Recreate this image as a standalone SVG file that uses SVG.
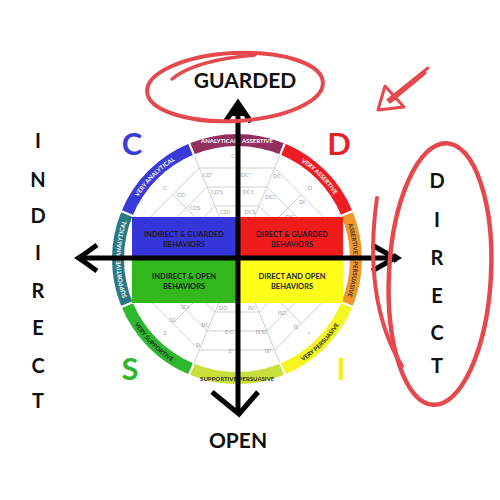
<svg xmlns="http://www.w3.org/2000/svg" width="500" height="500" viewBox="0 0 500 500">
<defs>
<style>
.seg{stroke:#fff;stroke-width:2}
.web{fill:none;stroke:#c4c4c4;stroke-width:0.8}
.wl{font-family:Lato,'Liberation Sans',sans-serif;font-size:5.5px;fill:#9a9a9a;text-anchor:middle}
.bl{font-family:Lato,'Liberation Sans',sans-serif;font-size:6px;font-weight:700;text-anchor:middle}
.bx{font-family:Lato,'Liberation Sans',sans-serif;font-size:7.5px;font-weight:700;fill:#1a1a2a;text-anchor:middle}
.big{font-family:Lato,'Liberation Sans',sans-serif;font-size:31px;font-weight:700;text-anchor:middle}
.ax{font-family:Lato,'Liberation Sans',sans-serif;font-weight:700;fill:#111;text-anchor:middle}
.axl{fill:none;stroke:#000;stroke-width:5;stroke-linecap:butt;stroke-linejoin:miter}
.red{fill:none;stroke:#e5484d;stroke-linecap:round;stroke-linejoin:round}
</style>
<path id="pBlue" d="M129.37,214.42 A116.5,116.5 0 0 1 192.42,151.37"/>
<path id="pRed" d="M281.58,151.37 A116.5,116.5 0 0 1 344.63,214.42"/>
<path id="pLeft" d="M129.37,303.58 A116.5,116.5 0 0 1 129.37,214.42"/>
<path id="pRight" d="M344.63,214.42 A116.5,116.5 0 0 1 344.63,303.58"/>
<path id="pGreen" d="M124.75,305.5 A121.5,121.5 0 0 0 190.5,371.25"/>
<path id="pYellow" d="M283.5,371.25 A121.5,121.5 0 0 0 349.25,305.5"/>
</defs>
<rect width="500" height="500" fill="#fff"/>

<g id="ring">
<path class="seg" fill="#93305f" d="M188.78,142.59 A126,126 0 0 1 285.22,142.59 L279.86,155.53 A112,112 0 0 0 194.14,155.53 Z"/>
<path class="seg" fill="#ee1c25" d="M285.22,142.59 A126,126 0 0 1 353.41,210.78 L340.47,216.14 A112,112 0 0 0 279.86,155.53 Z"/>
<path class="seg" fill="#f0962a" d="M353.41,210.78 A126,126 0 0 1 353.41,307.22 L340.47,301.86 A112,112 0 0 0 340.47,216.14 Z"/>
<path class="seg" fill="#f5f51f" d="M353.41,307.22 A126,126 0 0 1 285.22,375.41 L279.86,362.47 A112,112 0 0 0 340.47,301.86 Z"/>
<path class="seg" fill="#c8e03c" d="M285.22,375.41 A126,126 0 0 1 188.78,375.41 L194.14,362.47 A112,112 0 0 0 279.86,362.47 Z"/>
<path class="seg" fill="#2db82d" d="M188.78,375.41 A126,126 0 0 1 120.59,307.22 L133.53,301.86 A112,112 0 0 0 194.14,362.47 Z"/>
<path class="seg" fill="#2a7a85" d="M120.59,307.22 A126,126 0 0 1 120.59,210.78 L133.53,216.14 A112,112 0 0 0 133.53,301.86 Z"/>
<path class="seg" fill="#3a3adb" d="M120.59,210.78 A126,126 0 0 1 188.78,142.59 L194.14,155.53 A112,112 0 0 0 133.53,216.14 Z"/>
<text class="bl" fill="#fff" x="219" y="142.5">ANALYTICAL</text>
<text class="bl" fill="#fff" x="257.5" y="142.5">ASSERTIVE</text>
<text class="bl" fill="#333" x="218.5" y="380.5">SUPPORTIVE</text>
<text class="bl" fill="#333" x="256.5" y="380.5">PERSUASIVE</text>
<text class="bl" fill="#fff"><textPath href="#pBlue" startOffset="50%">VERY ANALYTICAL</textPath></text>
<text class="bl" fill="#fff"><textPath href="#pRed" startOffset="50%">VERY ASSERTIVE</textPath></text>
<text class="bl" fill="#fff"><textPath href="#pLeft" startOffset="28%">SUPPORTIVE</textPath></text>
<text class="bl" fill="#fff"><textPath href="#pLeft" startOffset="72%">ANALYTICAL</textPath></text>
<text class="bl" fill="#333"><textPath href="#pRight" startOffset="28%">ASSERTIVE</textPath></text>
<text class="bl" fill="#333"><textPath href="#pRight" startOffset="72%">PERSUASIVE</textPath></text>
<text class="bl" fill="#222"><textPath href="#pGreen" startOffset="50%">VERY SUPPORTIVE</textPath></text>
<text class="bl" fill="#222"><textPath href="#pYellow" startOffset="50%">VERY PERSUASIVE</textPath></text>
</g>

<g id="web">
<polygon class="web" points="199.3,168 274.7,168 328,221.3 328,296.7 274.7,350 199.3,350 146,296.7 146,221.3"/>
<polygon class="web" points="207.2,187 266.8,187 309,229.2 309,288.8 266.8,331 207.2,331 165,288.8 165,229.2"/>
<polygon class="web" points="215.05,206 258.95,206 290,237.05 290,280.95 258.95,312 215.05,312 184,280.95 184,237.05"/>
<path class="web" d="M237,259 L194.14,155.53 M237,259 L279.86,155.53 M237,259 L340.47,216.14 M237,259 L340.47,301.86 M237,259 L279.86,362.47 M237,259 L194.14,362.47 M237,259 L133.53,301.86 M237,259 L133.53,216.14 M237,259 L172.7,194.7 M237,259 L301.3,194.7 M237,259 L172.7,323.3 M237,259 L301.3,323.3"/>
<text class="wl" x="233" y="158">C</text>
<text class="wl" x="165" y="190">C</text>
<text class="wl" x="181" y="197">CD</text>
<text class="wl" x="195" y="210">CDS</text>
<text class="wl" x="208" y="177">CD"</text>
<text class="wl" x="217" y="194">CD'S</text>
<text class="wl" x="225" y="214">CDI</text>
<text class="wl" x="246" y="177">DC"</text>
<text class="wl" x="248" y="194">DC'I</text>
<text class="wl" x="250" y="214">DCS</text>
<text class="wl" x="277" y="178">DC</text>
<text class="wl" x="310" y="190">D</text>
<text class="wl" x="270" y="199">DCI</text>
<text class="wl" x="302" y="204">DI</text>
<text class="wl" x="290" y="219">DIC</text>
<text class="wl" x="185" y="309">SCI</text>
<text class="wl" x="173" y="322">SC</text>
<text class="wl" x="165" y="335">S</text>
<text class="wl" x="205" y="327">SIC</text>
<text class="wl" x="198" y="347">SI</text>
<text class="wl" x="223" y="310">SID</text>
<text class="wl" x="229" y="334">S"C</text>
<text class="wl" x="231" y="353">S"</text>
<text class="wl" x="252" y="310">ISC</text>
<text class="wl" x="282" y="315">ISD</text>
<text class="wl" x="261" y="334">IS"D</text>
<text class="wl" x="268" y="353">IS"</text>
<text class="wl" x="296" y="329">IS</text>
<text class="wl" x="309" y="335">I</text>
</g>

<g id="q-indirect-guarded">
<rect x="132" y="217" width="105" height="40" fill="#3535d9"/>
<text class="bx" x="184" y="237">INDIRECT &amp; GUARDED</text>
<text class="bx" x="184" y="247">BEHAVIORS</text>
</g>
<g id="q-direct-guarded">
<rect x="239" y="217" width="104" height="40" fill="#f01c1c"/>
<text class="bx" x="292" y="237">DIRECT &amp; GUARDED</text>
<text class="bx" x="292" y="247">BEHAVIORS</text>
</g>
<g id="q-indirect-open">
<rect x="132" y="260" width="105" height="43" fill="#33b81c"/>
<text class="bx" x="184" y="279">INDIRECT &amp; OPEN</text>
<text class="bx" x="184" y="289">BEHAVIORS</text>
</g>
<g id="q-direct-open">
<rect x="239" y="260" width="104" height="43" fill="#ffff1a"/>
<text class="bx" x="292" y="279">DIRECT AND OPEN</text>
<text class="bx" x="292" y="289">BEHAVIORS</text>
</g>

<g id="letters">
<text class="big" fill="#3b3bd8" x="132" y="155">C</text>
<text class="big" fill="#e8202a" x="339" y="155">D</text>
<text class="big" fill="#2eb82e" x="130" y="380">S</text>
<text class="big" fill="#f2f21a" x="341" y="380">I</text>
</g>

<g id="connectors">
<line class="axl" x1="80" y1="258" x2="396" y2="258"/>
<line class="axl" x1="238" y1="104" x2="238" y2="412"/>
<polyline class="axl" points="97,245 79,258 97,271"/>
<polyline class="axl" points="372,245 395,258 372,271"/>
<polygon points="74,258 82,253 82,263" fill="#000"/>
<polygon points="402,258 394,253 394,263" fill="#000"/>
<polyline class="axl" points="225,122 238,103 251,122"/>
<polygon points="238,100 229,116 247,116" fill="#000"/>
<polyline class="axl" points="212,392 239,414 258,392"/>
</g>

<g id="axis-labels">
<text class="ax" font-size="21" x="245" y="88">GUARDED</text>
<text class="ax" font-size="21" x="238" y="448">OPEN</text>
<g font-size="20">
<text class="ax" x="38" y="148">I</text>
<text class="ax" x="38" y="187">N</text>
<text class="ax" x="38" y="223">D</text>
<text class="ax" x="38" y="260">I</text>
<text class="ax" x="38" y="298">R</text>
<text class="ax" x="38" y="335">E</text>
<text class="ax" x="38" y="373">C</text>
<text class="ax" x="38" y="408">T</text>
</g>
<g font-size="20">
<text class="ax" x="437" y="188">D</text>
<text class="ax" x="437" y="227">I</text>
<text class="ax" x="437" y="265">R</text>
<text class="ax" x="437" y="303">E</text>
<text class="ax" x="437" y="340">C</text>
<text class="ax" x="437" y="373">T</text>
</g>
</g>

<g id="annotations">
<ellipse class="red" stroke-width="4" cx="235" cy="87" rx="88" ry="34" transform="rotate(-3 235 87)"/>
<path class="red" stroke-width="3.5" d="M172,79 Q195,60 255,55"/>
<ellipse class="red" stroke-width="4.5" cx="440" cy="274" rx="51" ry="131" transform="rotate(3 440 274)"/>
<path class="red" stroke-width="4" d="M377,198 C368,260 374,320 402,366"/>
<path class="red" stroke-width="3" d="M428,68 L388,100 M425,73 L390,102"/>
<path class="red" stroke-width="3" d="M385,86 L378,110 L404,107 Z"/>
</g>
</svg>
